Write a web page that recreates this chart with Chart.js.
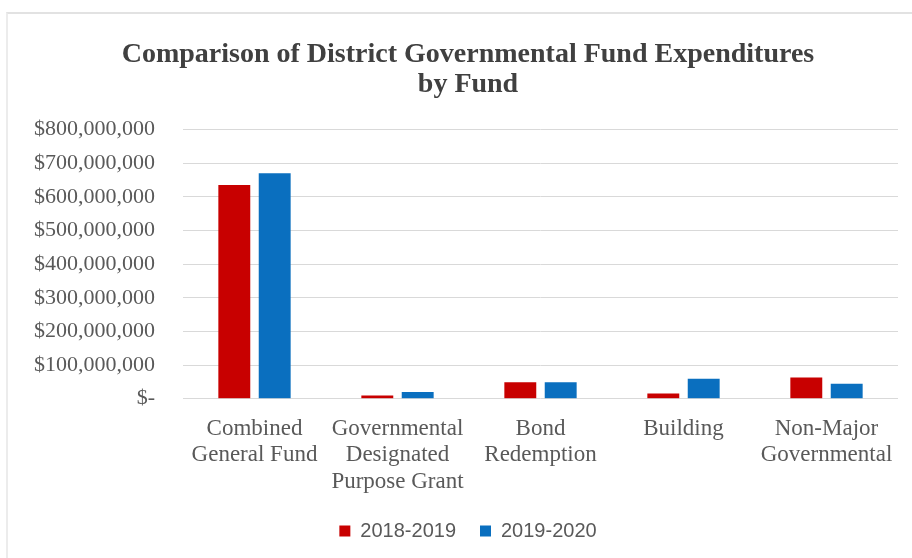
<!DOCTYPE html>
<html>
<head>
<meta charset="utf-8">
<script src="https://cdn.jsdelivr.net/npm/chart.js@4.4.1/dist/chart.umd.min.js"></script>
<style>
  html, body { margin: 0; padding: 0; background: #fff; }
  body { width: 912px; height: 558px; position: relative; overflow: hidden; }
  .frame {
    position: absolute; left: 6px; top: 12px; right: 0; bottom: 0;
    border-top: 2px solid #e2e2e2; border-left: 2px solid #ececec;
  }
  #wrap { position: absolute; left: 24px; top: 14px; width: 888px; height: 544px; }
</style>
</head>
<body>
<div class="frame"></div>
<div id="wrap"><canvas id="chart"></canvas></div>
<script>
const funds = [
  ['Combined', 'General Fund'],
  ['Governmental', 'Designated', 'Purpose Grant'],
  ['Bond', 'Redemption'],
  ['Building'],
  ['Non-Major', 'Governmental']
];
const years = ['2018-2019', '2019-2020'];
const expenditures1819 = [635000000, 9000000, 49000000, 15000000, 63000000];
const expenditures1920 = [670000000, 20000000, 49000000, 59000000, 44000000];
const yTicks = [0, 100000000, 200000000, 300000000, 400000000, 500000000, 600000000, 700000000, 800000000];

const serif = '"Liberation Serif", "Times New Roman", serif';
const grey = '#595959';

function money(v) {
  return v === 0 ? '$-' : '$' + v.toLocaleString('en-US');
}

new Chart(document.getElementById('chart'), {
  type: 'bar',
  data: {
    labels: funds,
    datasets: [
      { label: years[0], data: expenditures1819, backgroundColor: '#C80000' },
      { label: years[1], data: expenditures1920, backgroundColor: '#0A6FBF' }
    ]
  },
  options: {
    responsive: true,
    maintainAspectRatio: false,
    animation: false,
    layout: { padding: { left: 0, right: 0, top: 0, bottom: 7 } },
    datasets: {
      bar: { categoryPercentage: 0.565, barPercentage: 0.79 }
    },
    scales: {
      x: {
        // labels hang a little into the gap above the legend
        afterFit: (scale) => { scale.height -= 7; },
        grid: { display: false },
        border: { display: false },
        ticks: {
          autoSkip: false,
          maxRotation: 0,
          padding: 9,
          color: grey,
          font: { family: serif, size: 23, lineHeight: 1.15 }
        }
      },
      y: {
        min: 0,
        max: yTicks[yTicks.length - 1],
        afterFit: (scale) => { scale.width = 159; },
        afterBuildTicks: (scale) => { scale.ticks = yTicks.map(v => ({ value: v })); },
        grid: { color: '#d9d9d9', drawTicks: false },
        border: { display: false },
        ticks: {
          padding: 28,
          color: grey,
          font: { family: serif, size: 22 },
          callback: (v) => money(v)
        }
      },
      // empty strip on the right so the plot ends before the frame edge
      spacer: {
        position: 'right',
        display: true,
        afterFit: (scale) => { scale.width = 14; },
        grid: { display: false },
        border: { display: false },
        ticks: { display: false }
      }
    },
    plugins: {
      title: {
        display: true,
        text: ['Comparison of District Governmental Fund Expenditures', 'by Fund'],
        color: '#404040',
        font: { family: serif, size: 28, weight: 'bold', lineHeight: 1.1 },
        padding: { top: 25, bottom: 29 }
      },
      legend: {
        position: 'bottom',
        labels: {
          boxWidth: 11,
          boxHeight: 11,
          padding: 24,
          color: grey,
          font: { family: '"Liberation Sans", Arial, sans-serif', size: 20 }
        }
      },
      tooltip: { enabled: false }
    }
  }
});
</script>
</body>
</html>
